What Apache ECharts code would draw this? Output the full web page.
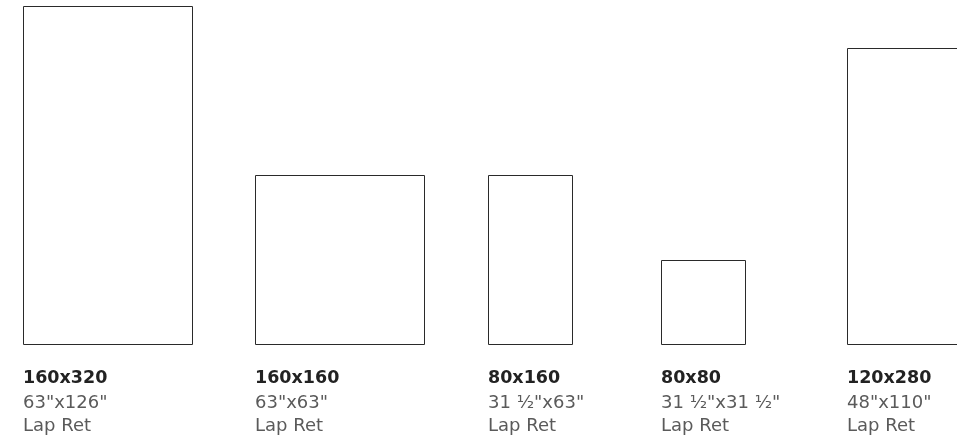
<!DOCTYPE html>
<html><head><meta charset="utf-8">
<script src="https://cdn.jsdelivr.net/npm/echarts@6/dist/echarts.min.js"></script>
<style>html,body{margin:0;padding:0;background:#fff}#c{width:957px;height:441px}</style>
</head><body><div id="c"></div>
<script>
const names = ['160x320', '160x160', '80x160', '80x80', '120x280'];
const widths = [160, 160, 80, 80, 120];
const depths = [320, 160, 160, 80, 280];
const inches = ['63"x126"', '63"x63"', '31 \u00BD"x63"', '31 \u00BD"x31 \u00BD"', '48"x110"'];
const types = ['Lap Ret', 'Lap Ret', 'Lap Ret', 'Lap Ret', 'Lap Ret'];
const xStarts = [0, 220, 440, 604, 780];

const data = names.map((n, i) => [xStarts[i], widths[i], depths[i], i]);
const chart = echarts.init(document.getElementById('c'), null, {renderer: 'canvas'});
chart.setOption({
  animation: false,
  grid: {left: 23, right: 0, top: 6, bottom: 97},
  xAxis: {type: 'value', min: 0, max: 884.5, show: false},
  yAxis: {type: 'value', min: 0, max: 320, show: false},
  series: [{
    type: 'custom',
    clip: false,
    data: data,
    renderItem: function (params, api) {
      const x0 = api.value(0), w = api.value(1), h = api.value(2), i = api.value(3);
      const p0 = api.coord([x0, 0]);
      const p1 = api.coord([x0 + w, h]);
      const left = Math.round(p0[0]) + 0.5, bottom = Math.round(p0[1]) + 0.5;
      const right = Math.round(p1[0]) + 0.5, top = Math.round(p1[1]) + 0.5;
      const ff = '"DejaVu Sans", sans-serif';
      return {
        type: 'group',
        children: [
          {type: 'rect', shape: {x: left, y: top, width: right - left, height: bottom - top},
           style: {fill: 'none', stroke: '#2a2a2a', lineWidth: 1}},
          {type: 'text', x: left - 0.5, y: bottom + 25,
           style: {text: names[i], fill: '#222', font: '700 17.5px ' + ff, verticalAlign: 'top', align: 'left'}},
          {type: 'text', x: left - 0.5, y: bottom + 49.5,
           style: {text: inches[i], fill: '#5a5a5a', font: '400 18px ' + ff, verticalAlign: 'top', align: 'left'}},
          {type: 'text', x: left - 0.5, y: bottom + 72.5,
           style: {text: types[i], fill: '#5a5a5a', font: '400 18px ' + ff, verticalAlign: 'top', align: 'left'}}
        ]
      };
    }
  }]
});
</script></body></html>
